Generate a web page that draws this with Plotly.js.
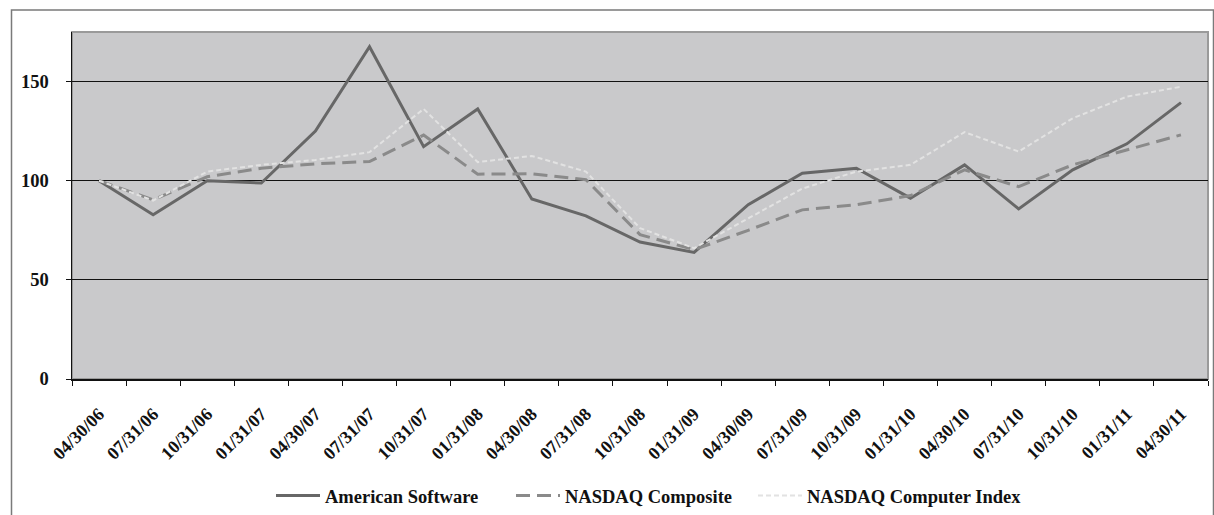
<!DOCTYPE html>
<html>
<head>
<meta charset="utf-8">
<script src="https://cdn.plot.ly/plotly-3.0.1.min.js"></script>
<style>
html,body{margin:0;padding:0;background:#fff;}
#chart{width:1214px;height:515px;}
</style>
</head>
<body>
<div id="chart"></div>
<script>
const categories = ["04/30/06","07/31/06","10/31/06","01/31/07","04/30/07","07/31/07","10/31/07","01/31/08","04/30/08","07/31/08","10/31/08","01/31/09","04/30/09","07/31/09","10/31/09","01/31/10","04/30/10","07/31/10","10/31/10","01/31/11","04/30/11"];
const americanSoftware = [100,82.8,100,98.8,125,167.6,117.2,136.2,90.8,82.3,69.1,63.8,87.9,103.8,106.3,91.2,108,85.8,105.5,118.6,139.4];
const nasdaqComposite = [100,90.4,102,106.3,108.5,109.7,123,103.3,103.5,100.5,72.8,65.2,75,85.3,87.9,92.5,105.5,97,108,115.5,123.1];
const nasdaqComputer = [100,90,104.6,108,110.5,114.4,136.2,109.4,112.5,104.6,76.1,66,81,96,104.6,108,124.5,114.7,131.5,142.4,147.4];
const yTicks = [0,50,100,150];

const serif = "Liberation Serif, Times New Roman, serif";

const traces = [
  {x: categories, y: americanSoftware, name: "American Software", type: "scatter", mode: "lines",
   line: {color: "#676767", width: 3}, legend: "legend"},
  {x: categories, y: nasdaqComposite, name: "NASDAQ Composite", type: "scatter", mode: "lines",
   line: {color: "#8a8a8a", width: 3, dash: "14px,7px"}, legend: "legend2"},
  {x: categories, y: nasdaqComputer, name: "NASDAQ Computer Index", type: "scatter", mode: "lines",
   line: {color: "#e2e2e2", width: 2, dash: "5px,3px"}, legend: "legend3"}
];

const legendFont = {family: serif, size: 18.5, color: "#111", weight: "bold"};
const mkLegend = (x) => ({x: x / 1214, xref: "container", xanchor: "left",
  y: 1 - 496 / 515, yref: "container", yanchor: "middle", orientation: "h",
  bgcolor: "rgba(0,0,0,0)", font: legendFont, itemwidth: 44});

const layout = {
  width: 1214, height: 515,
  margin: {l: 72, r: 6, t: 32, b: 135.5},
  paper_bgcolor: "#ffffff",
  plot_bgcolor: "#c9c9cb",
  showlegend: true,
  legend: mkLegend(271),
  legend2: mkLegend(511),
  legend3: mkLegend(753),
  xaxis: {
    type: "category",
    tickson: "boundaries",
    ticks: "outside", ticklen: 5, tickcolor: "#111", tickwidth: 1,
    tickangle: -45,
    tickfont: {family: serif, size: 18, color: "#111", weight: "bold"},
    ticklabelstandoff: 16,
    showline: true, linecolor: "#111", linewidth: 1.5,
    showgrid: false, zeroline: false,
    automargin: false,
    range: [-0.5, 20.5]
  },
  yaxis: {
    range: [0, 175],
    tickvals: yTicks,
    ticks: "outside", ticklen: 5, tickcolor: "#111",
    tickfont: {family: serif, size: 18.5, color: "#111", weight: "bold"},
    ticklabelstandoff: 13,
    showline: true, linecolor: "#111", linewidth: 1.5,
    showgrid: true, gridcolor: "#111", gridwidth: 1,
    zeroline: false,
    automargin: false
  },
  shapes: [
    {type: "rect", xref: "paper", yref: "paper", x0: 0, x1: 1, y0: 0, y1: 1,
     line: {color: "#9a9a9a", width: 2}, layer: "below"},
    {type: "rect", xref: "paper", yref: "paper",
     x0: (11.5 - 72) / 1136, x1: (1213.5 - 72) / 1136,
     y0: (379.5 - 530) / 347.5, y1: (379.5 - 10) / 347.5,
     line: {color: "#7a7a7a", width: 1.5}, layer: "above"}
  ]
};

Plotly.newPlot("chart", traces, layout, {displayModeBar: false, staticPlot: true});
</script>
</body>
</html>
